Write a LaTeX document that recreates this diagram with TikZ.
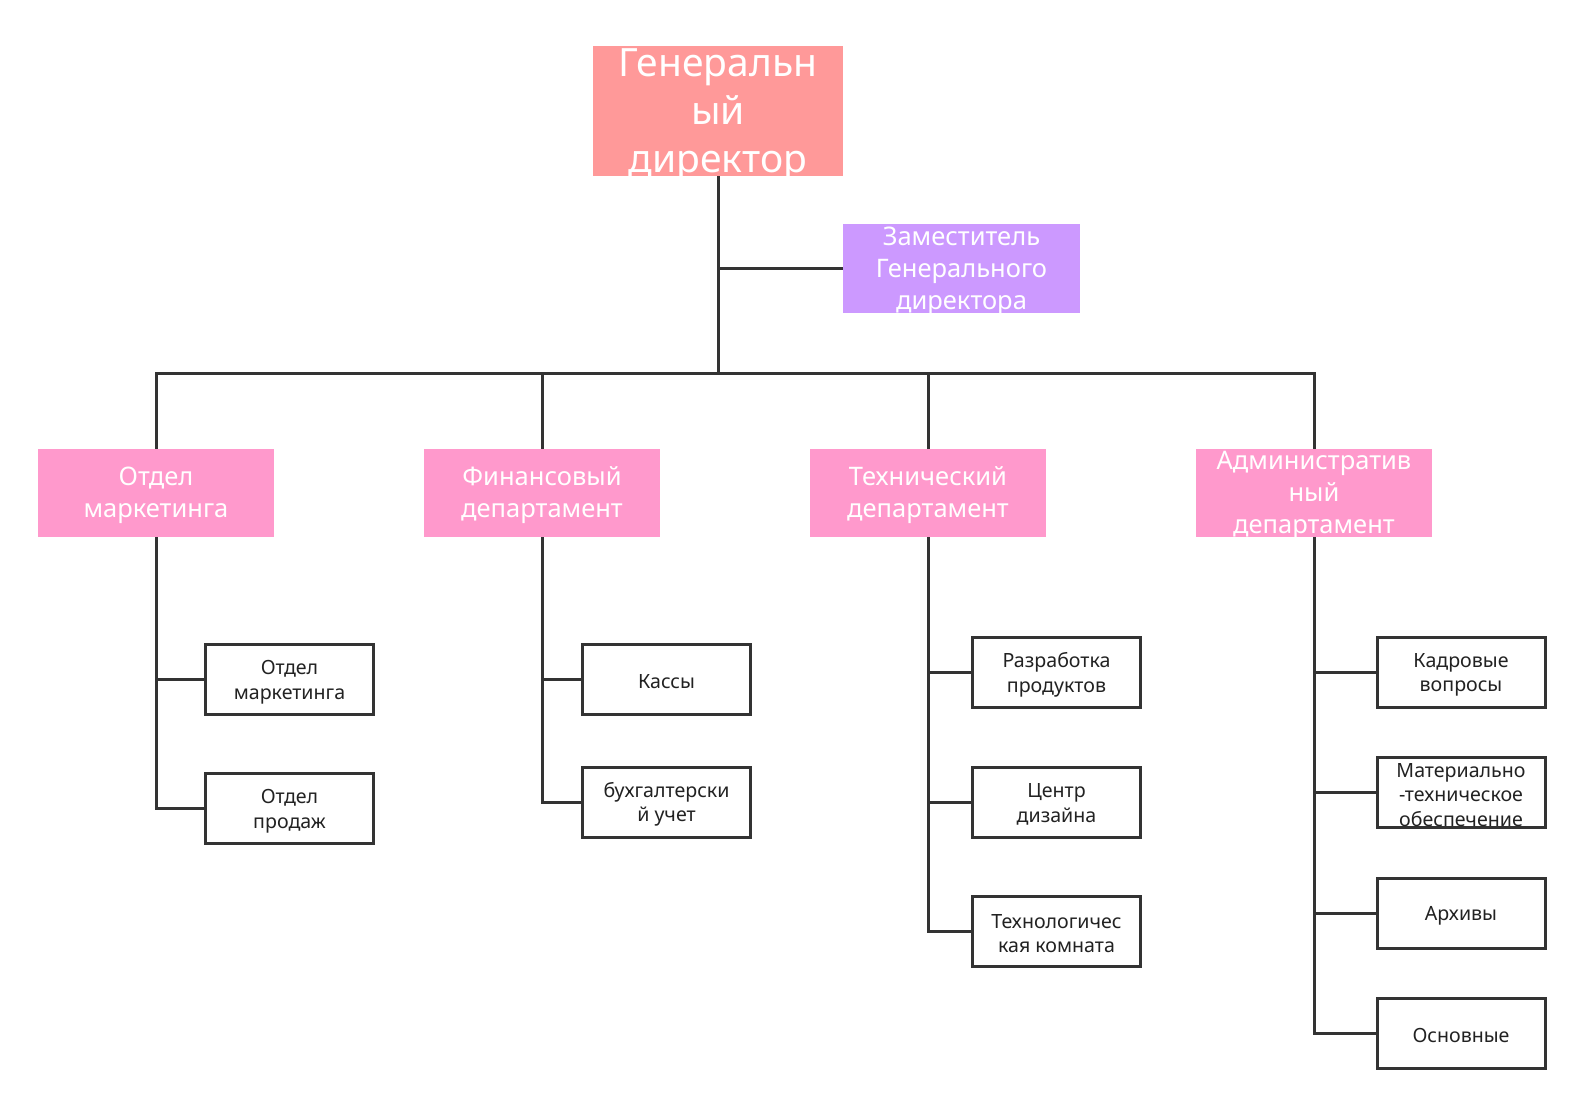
\documentclass[tikz,border=0pt]{standalone}
\usepackage{fontspec}
\setmainfont{Noto Sans}
\definecolor{gdfill}{HTML}{FF9999}
\definecolor{depfill}{HTML}{CC99FF}
\definecolor{deptfill}{HTML}{FF99CC}
\definecolor{linec}{HTML}{333333}
\definecolor{textc}{HTML}{222222}
\tikzset{
  gdbox/.style={fill=gdfill, minimum width=250pt, minimum height=130pt, inner sep=0pt},
  gdtext/.style={text=white, align=center, font=\fontsize{39}{48}\selectfont, inner sep=0pt, yshift=-4pt},
  depbox/.style={fill=depfill, minimum width=237pt, minimum height=89pt, inner sep=0pt},
  deptbox/.style={fill=deptfill, minimum width=236pt, minimum height=88pt, inner sep=0pt},
  wtext/.style={text=white, align=center, font=\fontsize{25.5}{32}\selectfont, inner sep=0pt, yshift=-2.5pt},
  childbox/.style={draw=linec, line width=3pt, fill=white, minimum width=168pt, minimum height=70pt, inner sep=0pt},
  ctext/.style={text=textc, align=center, font=\fontsize{19.6}{24.5}\selectfont, inner sep=0pt, yshift=-2.5pt},
  conn/.style={draw=linec, line width=3pt}
}
\begin{document}
\begin{tikzpicture}[x=1pt,y=-1pt]
\useasboundingbox[fill=white] (0,0) rectangle (1582,1107);
\coordinate (bus) at (0,373);
% top
\node[gdbox, label={[gdtext]center:Генеральн\\ый\\директор}] (gd) at (718,111) {};
\node[depbox, label={[wtext]center:Заместитель\\Генерального\\директора}] (dep) at (961.5,268.5) {};
% departments
\node[deptbox, label={[wtext]center:Отдел\\маркетинга}] (d1) at (156,493) {};
\node[deptbox, label={[wtext]center:Финансовый\\департамент}] (d2) at (542,493) {};
\node[deptbox, label={[wtext]center:Технический\\департамент}] (d3) at (928,493) {};
\node[deptbox, label={[wtext]center:Административ\\ный\\департамент}] (d4) at (1314,493) {};
% children
\node[childbox, label={[ctext]center:Отдел\\маркетинга}] (c11) at (289.5,679.5) {};
\node[childbox, label={[ctext]center:Отдел\\продаж}] (c12) at (289.5,808.5) {};
\node[childbox, label={[ctext]center:Кассы}] (c21) at (666.5,679.5) {};
\node[childbox, label={[ctext]center:бухгалтерски\\й учет}] (c22) at (666.5,802) {};
\node[childbox, label={[ctext]center:Разработка\\продуктов}] (c31) at (1056.5,672.5) {};
\node[childbox, label={[ctext]center:Центр\\дизайна}] (c32) at (1056.5,802) {};
\node[childbox, label={[ctext]center:Технологичес\\кая комната}] (c33) at (1056.5,931) {};
\node[childbox, label={[ctext]center:Кадровые\\вопросы}] (c41) at (1461,672.5) {};
\node[childbox, label={[ctext]center:Материально\\-техническое\\обеспечение}] (c42) at (1461,792.5) {};
\node[childbox, label={[ctext]center:Архивы}] (c43) at (1461,913) {};
\node[childbox, label={[ctext]center:Основные}] (c44) at (1461,1033) {};
% connectors
\draw[conn] (gd.south) -- (gd.south |- bus);
\draw[conn] (gd.south |- dep.west) -- (dep.west);
\draw[conn] (gd.south |- bus) -| (d1.north);
\draw[conn] (gd.south |- bus) -| (d2.north);
\draw[conn] (gd.south |- bus) -| (d3.north);
\draw[conn] (gd.south |- bus) -| (d4.north);
\draw[conn] (d1.south) |- (c11.west);
\draw[conn] (d1.south) |- (c12.west);
\draw[conn] (d2.south) |- (c21.west);
\draw[conn] (d2.south) |- (c22.west);
\draw[conn] (d3.south) |- (c31.west);
\draw[conn] (d3.south) |- (c32.west);
\draw[conn] (d3.south) |- (c33.west);
\draw[conn] (d4.south) |- (c41.west);
\draw[conn] (d4.south) |- (c42.west);
\draw[conn] (d4.south) |- (c43.west);
\draw[conn] (d4.south) |- (c44.west);
\end{tikzpicture}
\end{document}
